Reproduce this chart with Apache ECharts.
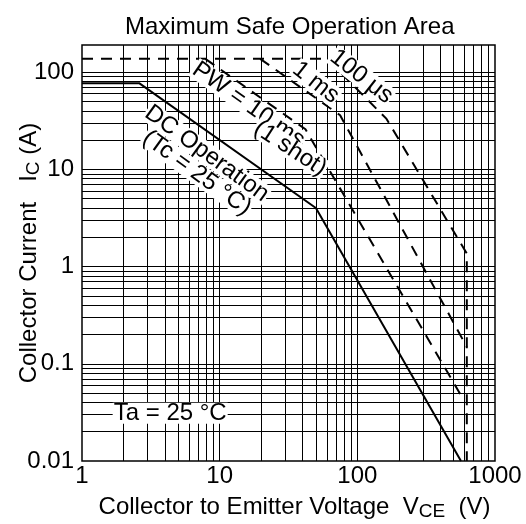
<!DOCTYPE html>
<html><head><meta charset="utf-8">
<style>html,body{margin:0;padding:0;background:#fff}#c{width:526px;height:524px}</style>
<script src="https://cdn.jsdelivr.net/npm/echarts@6/dist/echarts.min.js"></script>
</head><body><div id="c"></div>
<script>
// ---- data ----
const xDecades = [1, 10, 100];
const yDecades = [0.01, 0.1, 1, 10, 100];
const gridMultipliers = [1, 2, 3, 4, 5, 6, 7, 8, 9];
const xTickLabels = [1, 10, 100, 1000];
const yTickLabels = [0.01, 0.1, 1, 10, 100];
const dcOperation = [[1, 77], [2.6, 77], [50, 4], [566, 0.01]];
const pulse100us = [[1, 137], [60, 137], [163, 33], [624, 1.36], [624, 0.01]];
const pulse1ms = [[19.7, 137], [75, 36], [624, 0.149]];
const pulse10ms = [[7.87, 137], [42, 25.8], [595, 0.042]];

const FONT = 'Liberation Sans, Arial, sans-serif';
const FS = 24;
const X_MIN = 1, X_MAX = 1000, Y_MIN = 0.01, Y_MAX = 190;

const vLines = [], hLines = [];
xDecades.forEach(d => gridMultipliers.forEach(m => {
  const v = +(m * d).toPrecision(3);
  if (v > X_MIN && v < X_MAX) vLines.push({ xAxis: v });
}));
yDecades.forEach(d => gridMultipliers.forEach(m => {
  const v = +(m * d).toPrecision(3);
  if (v > Y_MIN && v < Y_MAX) hLines.push({ yAxis: v });
}));

function isTick(v, list) {
  return list.some(t => Math.abs(Math.log10(v) - Math.log10(t)) < 1e-6);
}
function fmt(v) { return v >= 1 ? String(Math.round(v)) : String(+v.toPrecision(1)); }

function curve(name, data, dashed) {
  return {
    name, type: 'line', data, symbol: 'none', showSymbol: false, silent: true,
    animation: false, z: 5,
    lineStyle: { color: '#000', width: 2, type: dashed ? [11, 8] : 'solid', cap: 'butt' }
  };
}
const richName = {
  n: { fontFamily: FONT, fontSize: FS, color: '#000' },
  s: { fontFamily: FONT, fontSize: 19, color: '#000', padding: [9, 0, 0, 0] }
};

const chart = echarts.init(document.getElementById('c'), null, { renderer: 'canvas' });
chart.setOption({
  animation: false,
  backgroundColor: '#fff',
  title: {
    text: 'Maximum Safe Operation Area', left: 120, top: 10,
    textStyle: { fontFamily: FONT, fontSize: FS, fontWeight: 'normal', color: '#000' }
  },
  grid: { left: 82, right: 31, top: 45, bottom: 63, containLabel: false, outerBoundsMode: 'none', show: true, borderColor: '#000', borderWidth: 1.5, backgroundColor: 'transparent' },
  xAxis: {
    type: 'log', logBase: 10, min: X_MIN, max: X_MAX,
    axisLine: { show: false }, axisTick: { show: false }, splitLine: { show: false },
    axisLabel: {
      color: '#000', fontFamily: FONT, fontSize: FS, margin: 3, hideOverlap: false,
      formatter: v => isTick(v, xTickLabels) ? fmt(v) : ''
    },
    name: '{n|Collector to Emitter Voltage  V}{s|CE}{n|  (V)}',
    nameLocation: 'middle', nameGap: 32, nameMoveOverlap: false,
    nameTextStyle: { color: '#000', fontFamily: FONT, padding: [0, 0, 0, 12], rich: richName }
  },
  yAxis: {
    type: 'log', logBase: 10, min: Y_MIN, max: Y_MAX,
    axisLine: { show: false }, axisTick: { show: false }, splitLine: { show: false },
    axisLabel: {
      color: '#000', fontFamily: FONT, fontSize: FS, margin: 8, hideOverlap: false,
      formatter: v => isTick(v, yTickLabels) ? fmt(v) : ''
    },
    name: '{n|Collector Current   I}{s|C}{n| (A)}',
    nameLocation: 'middle', nameGap: 39, nameMoveOverlap: false,
    nameTextStyle: { color: '#000', fontFamily: FONT, rich: richName }
  },
  series: [
    {
      type: 'line', data: [[1, 1]], symbol: 'none', silent: true, z: 1,
      lineStyle: { opacity: 0 },
      markLine: {
        silent: true, symbol: ['none', 'none'], animation: false, label: { show: false },
        lineStyle: { color: '#000', width: 1, type: 'solid' },
        emphasis: { disabled: true },
        data: vLines.concat(hLines)
      }
    },
    curve('DC Operation', dcOperation, false),
    curve('100 μs', pulse100us, true),
    curve('1 ms', pulse1ms, true),
    curve('10 ms', pulse10ms, true)
  ]
});

const notes = [
  { text: '100 μs', at: [107, 90], angle: 38 },
  { text: '1 ms', at: [50, 78], angle: 38 },
  { text: 'PW = 10 ms', at: [16.2, 46], angle: 35 },
  { text: '(1 shot)', at: [32.5, 16.4], angle: 33 },
  { text: 'DC Operation', at: [8.07, 14.5], angle: 36 },
  { text: '(Tc = 25 °C)', at: [6.83, 9.15], angle: 36 },
  { text: 'Ta = 25 °C', at: [4.37, 0.031], angle: 0 }
];
chart.setOption({
  graphic: notes.map(n => {
    const p = chart.convertToPixel({ gridIndex: 0 }, n.at);
    return {
      type: 'text', x: p[0], y: p[1], rotation: -n.angle * Math.PI / 180, z: 100, silent: true,
      style: {
        text: n.text, font: FS + 'px ' + FONT, fill: '#000', align: 'center', verticalAlign: 'middle',
        lineHeight: 21, backgroundColor: '#fff', padding: [0, 1]
      }
    };
  })
});
</script></body></html>
